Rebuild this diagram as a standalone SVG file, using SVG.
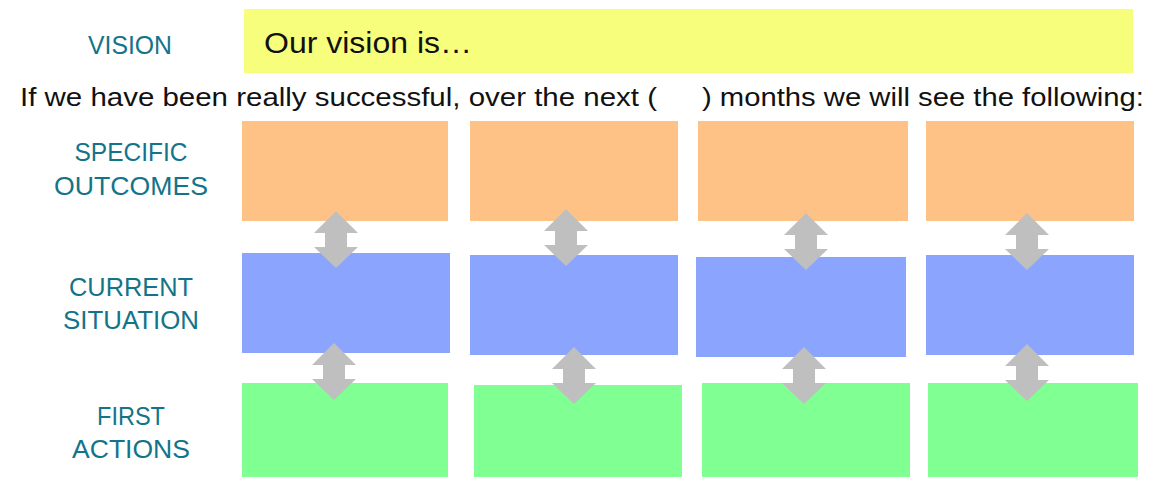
<svg xmlns="http://www.w3.org/2000/svg" xmlns:xlink="http://www.w3.org/1999/xlink" width="1154" height="477" viewBox="0 0 1154 477">
  <style>
    .label { font-family: "Liberation Sans", Arial, sans-serif; font-size: 25px; fill: #137489; text-anchor: middle; }
    .body { font-family: "Liberation Sans", Arial, sans-serif; fill: #111111; }
    .vision { fill: #F7FE7C; }
    .outcome { fill: #FFC286; }
    .current { fill: #8BA5FF; }
    .action { fill: #80FF92; }
    .arrow { fill: #BFBFBF; }
  </style>
  <defs>
    <path id="dblarrow" class="arrow" d="M0,0 L22,22 L11,22 L11,36 L22,36 L0,57 L-22,36 L-11,36 L-11,22 L-22,22 Z"/>
  </defs>
  <rect width="1154" height="477" fill="#ffffff"/>

  <g id="vision-label"><text class="label" x="130" y="54" textLength="84" lengthAdjust="spacingAndGlyphs">VISION</text></g>
  <g id="vision-box">
    <rect class="vision" x="244" y="9" width="889" height="64"/>
    <text class="body" x="264" y="53" font-size="29" textLength="208" lengthAdjust="spacingAndGlyphs">Our vision is…</text>
  </g>
  <g id="subtitle">
    <text class="body" x="20" y="106" font-size="26" textLength="637" lengthAdjust="spacingAndGlyphs">If we have been really successful, over the next (</text>
    <text class="body" x="702" y="106" font-size="26" textLength="442" lengthAdjust="spacingAndGlyphs">) months we will see the following:</text>
  </g>

  <g id="row-labels">
    <text class="label" x="131" y="161" textLength="113" lengthAdjust="spacingAndGlyphs">SPECIFIC</text>
    <text class="label" x="131" y="195" textLength="154" lengthAdjust="spacingAndGlyphs">OUTCOMES</text>
    <text class="label" x="131" y="296" textLength="124" lengthAdjust="spacingAndGlyphs">CURRENT</text>
    <text class="label" x="131" y="329" textLength="136" lengthAdjust="spacingAndGlyphs">SITUATION</text>
    <text class="label" x="131" y="425" textLength="68" lengthAdjust="spacingAndGlyphs">FIRST</text>
    <text class="label" x="131" y="458" textLength="118" lengthAdjust="spacingAndGlyphs">ACTIONS</text>
  </g>

  <g id="outcome-1"><rect class="outcome" x="242" y="121" width="206" height="100"/></g>
  <g id="outcome-2"><rect class="outcome" x="470" y="121" width="208" height="100"/></g>
  <g id="outcome-3"><rect class="outcome" x="698" y="121" width="210" height="100"/></g>
  <g id="outcome-4"><rect class="outcome" x="926" y="121" width="208" height="100"/></g>

  <g id="current-1"><rect class="current" x="242" y="253" width="208" height="100"/></g>
  <g id="current-2"><rect class="current" x="470" y="255" width="208" height="100"/></g>
  <g id="current-3"><rect class="current" x="696" y="257" width="210" height="100"/></g>
  <g id="current-4"><rect class="current" x="926" y="255" width="208" height="100"/></g>

  <g id="action-1"><rect class="action" x="242" y="383" width="206" height="94"/></g>
  <g id="action-2"><rect class="action" x="474" y="385" width="208" height="92"/></g>
  <g id="action-3"><rect class="action" x="702" y="383" width="208" height="94"/></g>
  <g id="action-4"><rect class="action" x="928" y="383" width="210" height="94"/></g>

  <g id="connectors">
    <use xlink:href="#dblarrow" href="#dblarrow" transform="translate(336,211)"/>
    <use xlink:href="#dblarrow" href="#dblarrow" transform="translate(566,209)"/>
    <use xlink:href="#dblarrow" href="#dblarrow" transform="translate(806,213)"/>
    <use xlink:href="#dblarrow" href="#dblarrow" transform="translate(1027,213)"/>
    <use xlink:href="#dblarrow" href="#dblarrow" transform="translate(334,343)"/>
    <use xlink:href="#dblarrow" href="#dblarrow" transform="translate(574,347)"/>
    <use xlink:href="#dblarrow" href="#dblarrow" transform="translate(804,347)"/>
    <use xlink:href="#dblarrow" href="#dblarrow" transform="translate(1027,344)"/>
  </g>
</svg>
